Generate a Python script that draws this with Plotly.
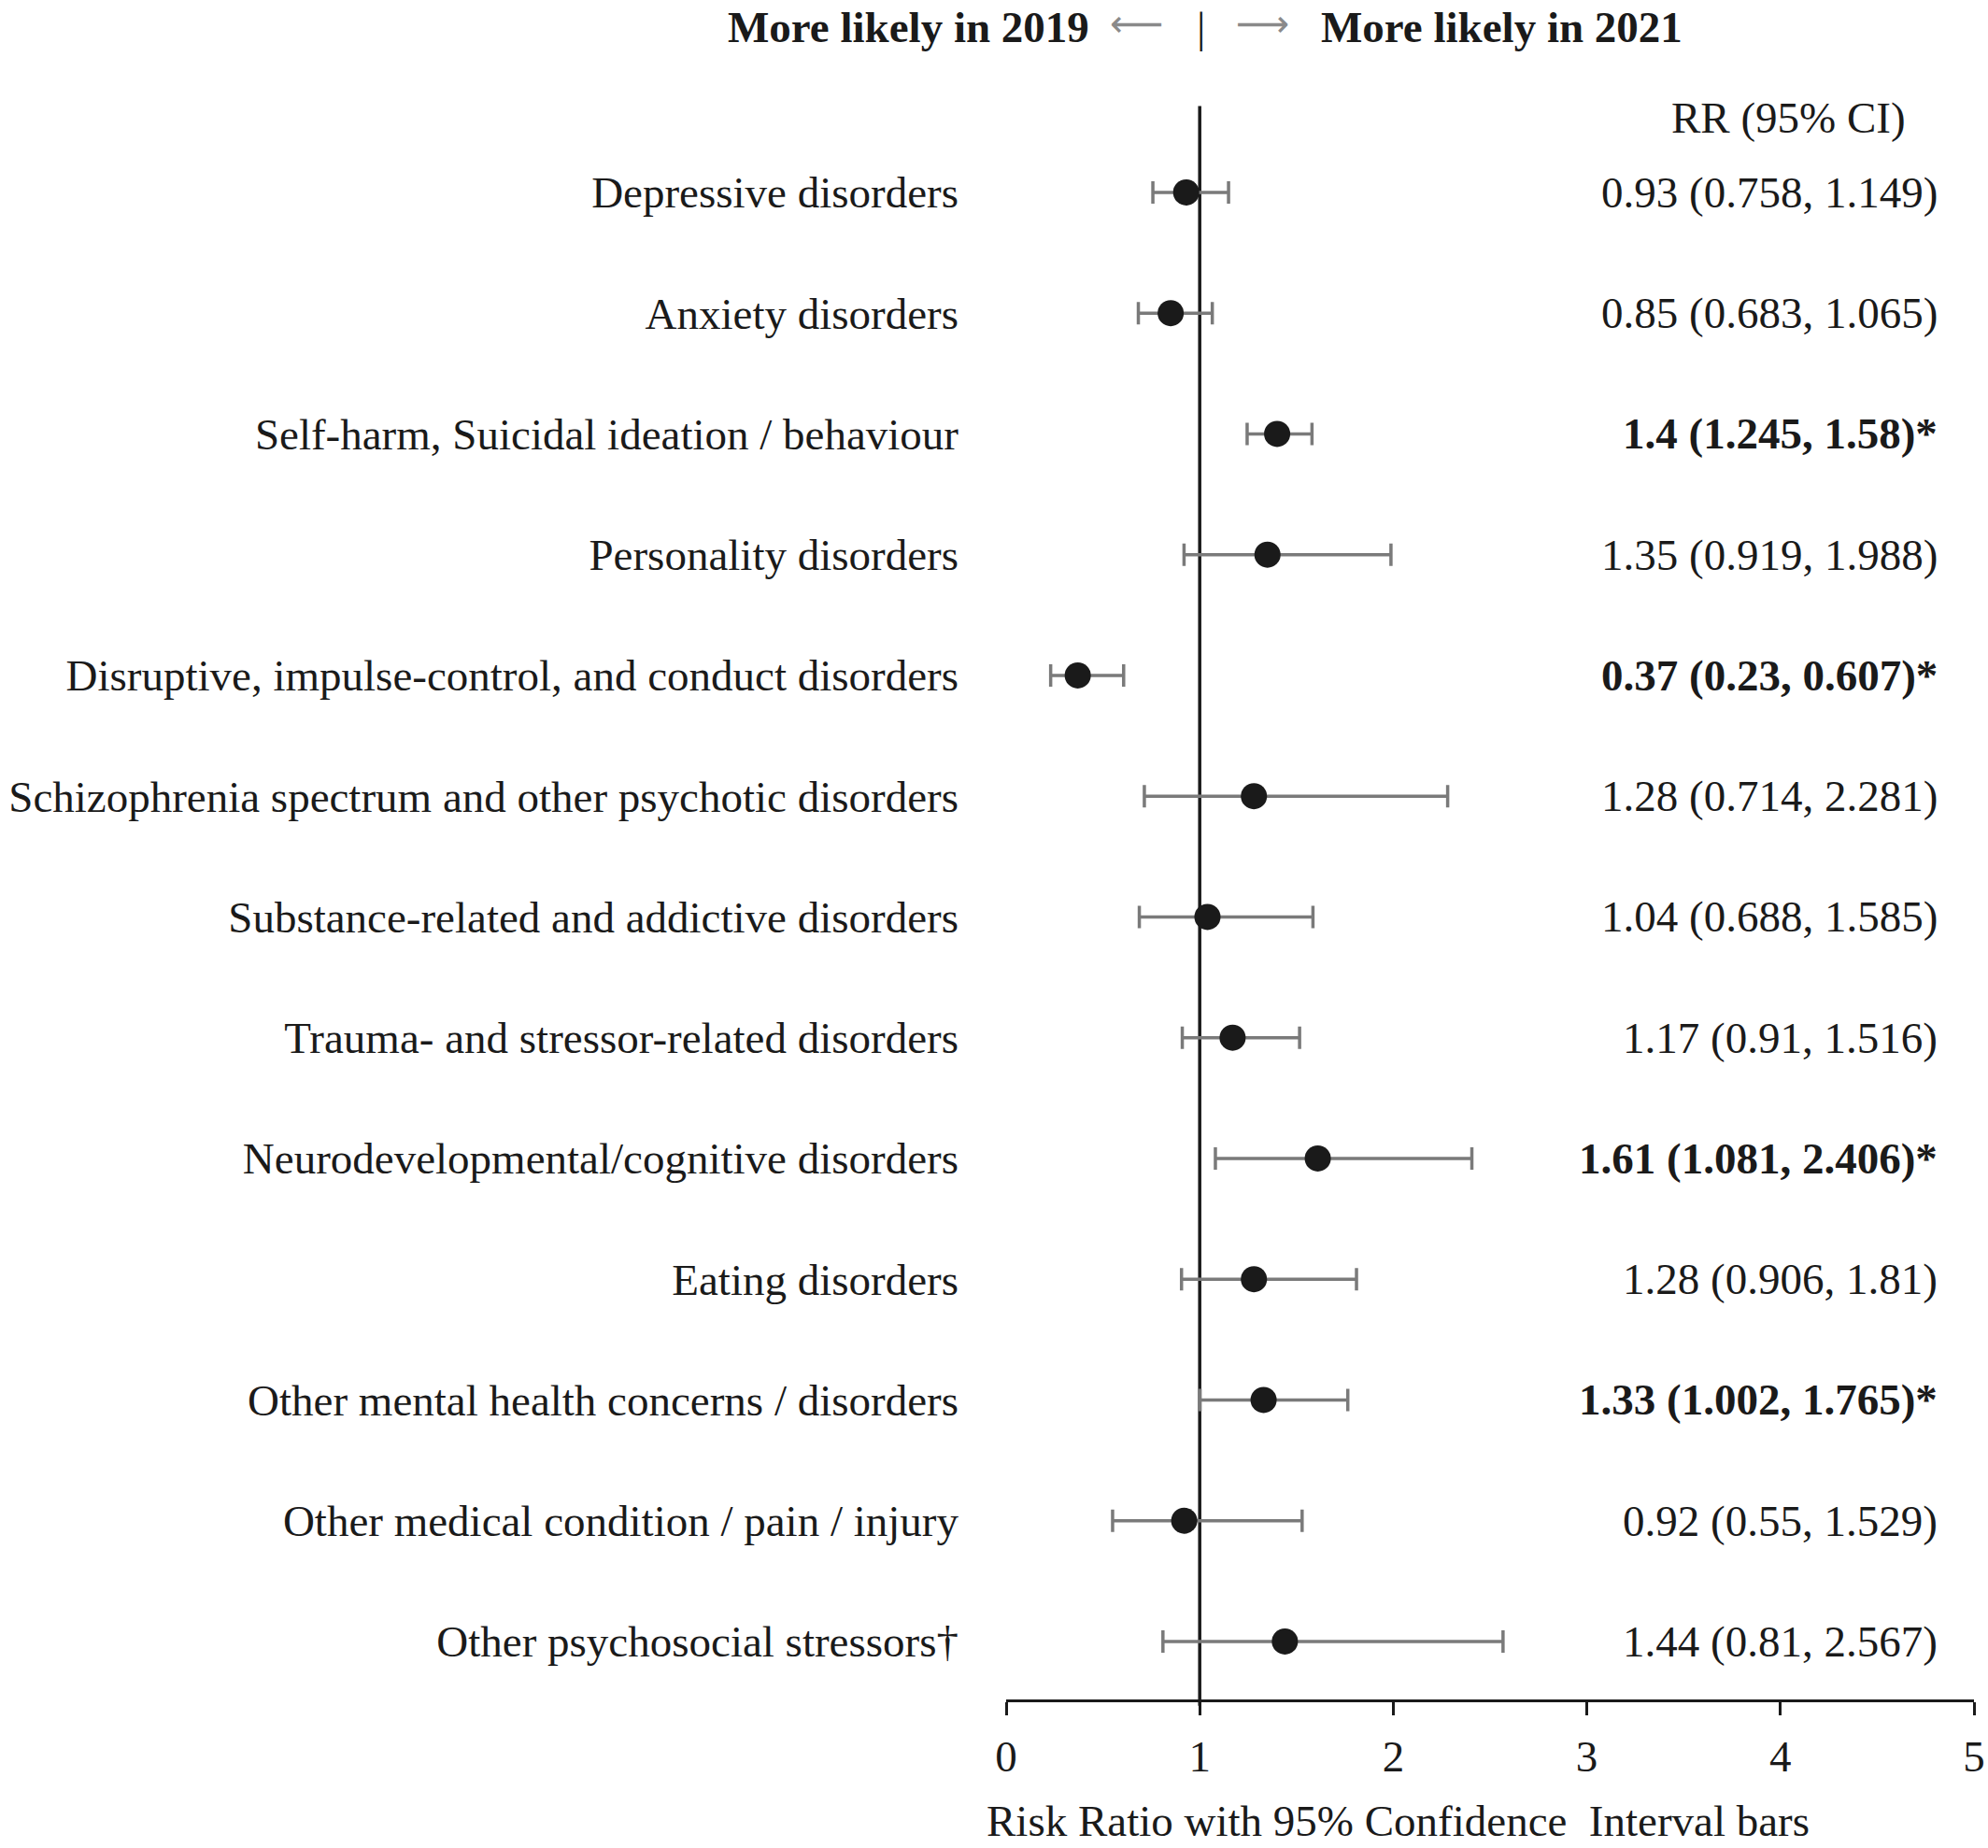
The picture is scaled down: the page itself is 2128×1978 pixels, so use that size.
import plotly.graph_objects as go

categories = [
    "Depressive disorders",
    "Anxiety disorders",
    "Self-harm, Suicidal ideation / behaviour",
    "Personality disorders",
    "Disruptive, impulse-control, and conduct disorders",
    "Schizophrenia spectrum and other psychotic disorders",
    "Substance-related and addictive disorders",
    "Trauma- and stressor-related disorders",
    "Neurodevelopmental/cognitive disorders",
    "Eating disorders",
    "Other mental health concerns / disorders",
    "Other medical condition / pain / injury",
    "Other psychosocial stressors\u2020",
]
rr = [0.93, 0.85, 1.4, 1.35, 0.37, 1.28, 1.04, 1.17, 1.61, 1.28, 1.33, 0.92, 1.44]
ci_low = [0.758, 0.683, 1.245, 0.919, 0.23, 0.714, 0.688, 0.91, 1.081, 0.906, 1.002, 0.55, 0.81]
ci_high = [1.149, 1.065, 1.58, 1.988, 0.607, 2.281, 1.585, 1.516, 2.406, 1.81, 1.765, 1.529, 2.567]
significant = [False, False, True, False, True, False, False, False, True, False, True, False, False]
x_ticks = [0, 1, 2, 3, 4, 5]

FONT = "Liberation Serif, Times New Roman, serif"
FS = 47
TXT = "#1a1a1a"

W, H = 2128, 1978
L, R, T, B = 1077, 15, 147, 159
plot_h = H - T - B
plot_w = W - L - R

def py(pixel_y):
    return (H - B - pixel_y) / plot_h

def px(pixel_x):
    return (pixel_x - L) / plot_w

ypos = list(range(len(categories)))

fig = go.Figure()
fig.add_trace(go.Scatter(
    x=rr, y=ypos, mode="markers",
    marker=dict(size=28, color=TXT),
    error_x=dict(type="data", symmetric=False,
                 array=[h - v for h, v in zip(ci_high, rr)],
                 arrayminus=[v - l for v, l in zip(rr, ci_low)],
                 color="#7a7a7a", thickness=3.5, width=12),
    cliponaxis=False, showlegend=False, hoverinfo="skip",
))

annotations = []
for i, (v, lo, hi, sig) in enumerate(zip(rr, ci_low, ci_high, significant)):
    t = f"{v:g} ({lo:g}, {hi:g})"
    if sig:
        t = f"<b>{t}*</b>"
    annotations.append(dict(x=px(2076), xref="paper", y=i, yref="y", text=t,
                            xanchor="right", yanchor="middle", showarrow=False,
                            font=dict(family=FONT, size=FS, color=TXT)))

annotations.append(dict(x=px(1914), xref="paper", y=py(126), yref="paper", text="RR (95% CI)",
                        xanchor="center", yanchor="middle", showarrow=False,
                        font=dict(family=FONT, size=FS, color=TXT)))

hy = py(1)
annotations += [
    dict(x=px(1168), xref="paper", y=hy, yref="paper", text="<b>More likely in 2019</b>",
         xanchor="right", yanchor="top", showarrow=False,
         font=dict(family=FONT, size=FS, color=TXT)),
    dict(x=px(1285), xref="paper", y=hy, yref="paper", text="|",
         xanchor="center", yanchor="top", showarrow=False,
         font=dict(family=FONT, size=FS, color=TXT)),
    dict(x=px(1412), xref="paper", y=hy, yref="paper", text="<b>More likely in 2021</b>",
         xanchor="left", yanchor="top", showarrow=False,
         font=dict(family=FONT, size=FS, color=TXT)),
    dict(x=px(1216), xref="paper", y=py(25), yref="paper", text="\u27f5",
         xanchor="center", yanchor="middle", showarrow=False,
         font=dict(family="DejaVu Sans", size=40, color="#8a8a8a")),
    dict(x=px(1351), xref="paper", y=py(25), yref="paper", text="\u27f6",
         xanchor="center", yanchor="middle", showarrow=False,
         font=dict(family="DejaVu Sans", size=40, color="#8a8a8a")),
    dict(x=px(1496), xref="paper", y=py(1977), yref="paper",
         text="Risk Ratio with 95% Confidence  Interval bars",
         xanchor="center", yanchor="bottom", showarrow=False,
         font=dict(family=FONT, size=FS, color=TXT)),
]

fig.add_shape(type="line", x0=1, x1=1, xref="x", y0=-0.004, y1=1.02, yref="paper",
              line=dict(color=TXT, width=3.5), layer="below")

fig.update_layout(
    width=W, height=H, autosize=False,
    margin=dict(l=L, r=R, t=T, b=B, pad=0, autoexpand=False),
    paper_bgcolor="white", plot_bgcolor="white",
    font=dict(family=FONT, size=FS, color=TXT),
    annotations=annotations,
    xaxis=dict(range=[0, 5], tickvals=x_ticks, ticktext=[str(v) for v in x_ticks],
               showgrid=False, zeroline=False, showline=True, linecolor=TXT, linewidth=3,
               ticks="outside", ticklen=14, tickwidth=3, tickcolor=TXT,
               ticklabelstandoff=4, automargin=False,
               tickfont=dict(family=FONT, size=FS, color=TXT), fixedrange=True),
    yaxis=dict(range=[12.48, -0.456], tickvals=ypos, ticktext=categories,
               showgrid=False, zeroline=False, showline=False, ticks="",
               ticklabelstandoff=50, automargin=False,
               tickfont=dict(family=FONT, size=FS, color=TXT), fixedrange=True),
)

fig.write_html("out.html", config={"displayModeBar": False},
               post_script="document.body.style.margin='0';document.body.style.overflow='hidden';")
